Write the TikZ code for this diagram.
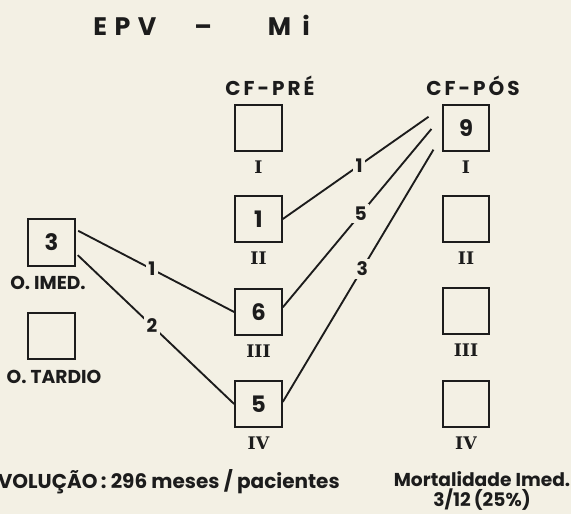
\documentclass[tikz,border=0pt]{standalone}
\usepackage{fontspec}
\setmainfont{Poppins}
\newfontfamily\romfont{DejaVu Serif}
\usetikzlibrary{positioning}
\definecolor{paper}{RGB}{243,240,228}
\definecolor{ink}{RGB}{28,28,28}
\tikzset{
    cell-box/.style = {draw=ink, line width=1.5pt, minimum size=35pt, inner sep=0pt, text=ink, font=\fontsize{17}{17}\selectfont\bfseries},
    class-label/.style = {text=ink, inner sep=0pt, font=\romfont\bfseries\fontsize{13}{13}\selectfont},
    head-text/.style = {text=ink, inner sep=0pt, font=\fontsize{15}{19}\selectfont\bfseries},
    link/.style = {draw=ink, line width=1.4pt},
    link-count/.style = {fill=paper, text=ink, inner sep=2pt, font=\fontsize{14}{14}\selectfont\bfseries},
}

\begin{document}
\begin{tikzpicture}[x=0.75pt, y=-0.75pt]
\fill[paper] (0,0) rectangle (571,514);
\clip (0,0) rectangle (571,514);
\node[head-text, anchor=base west, font=\fontsize{19}{19}\selectfont\bfseries] (title) at (93,35)
    {E\hspace{0.3em}P\hspace{0.3em}V\hspace{1.5em}–\hspace{2.2em}M\hspace{0.45em}i};
\node[head-text, anchor=base, font=\fontsize{15}{15}\selectfont\bfseries\addfontfeature{LetterSpace=15}] (pre) at (270,95) {CF-PRÉ};
\node[head-text, anchor=base, font=\fontsize{15}{15}\selectfont\bfseries\addfontfeature{LetterSpace=15}] (pos) at (473,95) {CF-PÓS};
% CF-PRE
\node[cell-box] (a1) at (258.5,128) {};
\node[cell-box] (a2) at (258.5,219) {1};
\node[cell-box] (a3) at (258.5,312) {6};
\node[cell-box] (a4) at (258.5,404) {5};
% CF-POS
\node[cell-box] (b1) at (466,128) {9};
\node[cell-box] (b2) at (466,219) {};
\node[cell-box] (b3) at (466,311) {};
\node[cell-box] (b4) at (466,404) {};
\foreach \n/\r in {a1/I, a2/II, a3/III, a4/IV, b1/I, b2/II, b3/III, b4/IV}
    \node[class-label, below=6pt] (\n-r) at (\n.south) {\r};
% obitos
\node[cell-box] (imed) at (51.5,242.5) {3};
\node[cell-box] (tard) at (51.5,336) {};
\node[head-text, font=\fontsize{14}{14}\selectfont\bfseries] (imed-t) at (48,283) {O. IMED.};
\node[head-text, font=\fontsize{14}{14}\selectfont\bfseries] (tard-t) at (54,377) {O. TARDIO};
% ligacoes
\draw[link, shorten <=2pt] (imed.28) -- node[link-count, pos=.48] (c1) {1} (a3.west);
\draw[link, shorten <=2pt] (imed.-24) -- node[link-count, pos=.48] (c2) {2} (a4.west);
\draw[link, shorten >=12pt] (a2.east) -- node[link-count, pos=.48] (c3) {1} (b1.140);
\draw[link, shorten >=12pt] (a3.11) -- node[link-count, pos=.49] (c4) {5} (b1.155);
\draw[link, shorten >=12pt] (a4.5) -- node[link-count, pos=.5] (c5) {3} (b1.-162);
% rodape
\node[head-text, anchor=base east] (evo) at (340,488) {EVOLUÇÃO\,: 296 meses / pacientes};
\node[head-text, anchor=base, align=center, font=\fontsize{14}{12.75}\selectfont\bfseries] (mort) at (482,506) {Mortalidade Imed.\\3/12\,(25\%)};
\end{tikzpicture}
\end{document}
